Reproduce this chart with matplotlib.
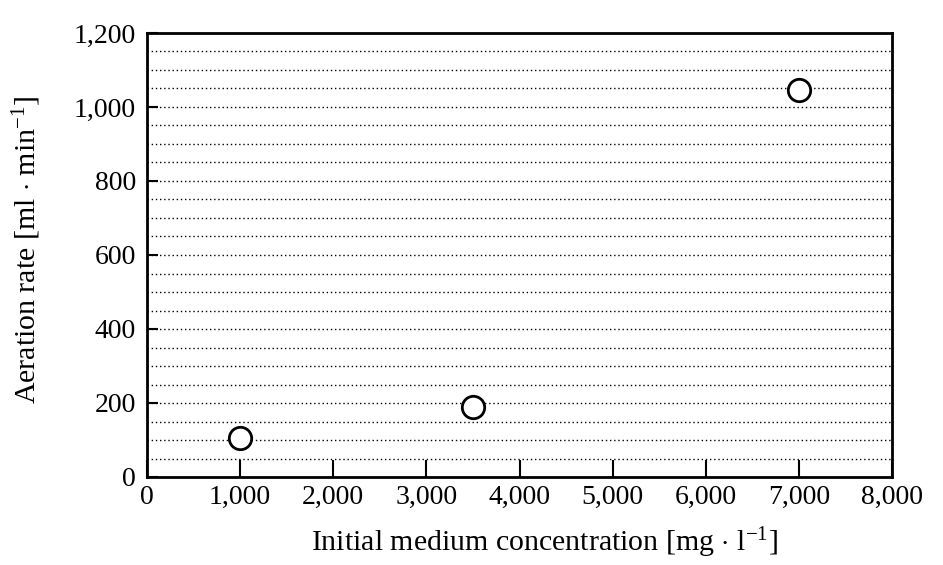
import matplotlib.pyplot as plt
import numpy as np

plt.rcParams['font.family'] = ['Liberation Serif', 'DejaVu Serif']
plt.rcParams['mathtext.fontset'] = 'custom'
plt.rcParams['mathtext.rm'] = 'Liberation Serif'
plt.rcParams['mathtext.it'] = 'Liberation Serif:italic'

# initial medium concentration [mg/l] vs aeration rate [ml/min]
concentration = [1000, 3500, 7000]
aeration_rate = [105, 190, 1045]

x_ticks = [0, 1000, 2000, 3000, 4000, 5000, 6000, 7000, 8000]
y_ticks = [0, 200, 400, 600, 800, 1000, 1200]

fig = plt.figure(figsize=(9.43, 5.65), dpi=100)
ax = fig.add_axes([147 / 943, 1 - 477 / 565, (892 - 147) / 943, (477 - 33) / 565])

ax.scatter(concentration, aeration_rate, s=260, facecolors='white',
           edgecolors='black', linewidths=2, zorder=3)

ax.set_xlim(0, 8000)
ax.set_ylim(0, 1200)
ax.set_xticks(x_ticks)
ax.set_yticks(y_ticks)
ax.set_xticklabels([f'{v:,}' for v in x_ticks])
ax.set_yticklabels([f'{v:,}' for v in y_ticks])
ax.set_yticks(np.arange(0, 1201, 50), minor=True)

# dotted horizontal lines every 50
ax.grid(True, which='both', axis='y', linestyle=(0, (1, 2)), color='black',
        linewidth=1.0)
ax.set_axisbelow(True)

ax.tick_params(axis='x', which='major', direction='in', length=12, width=1.5,
               labelsize=20, pad=6)
ax.tick_params(axis='y', which='major', direction='in', length=8, width=1.5,
               labelsize=20, pad=8)
ax.tick_params(axis='y', which='minor', length=0)
for s in ax.spines.values():
    s.set_linewidth(2)

ax.set_xlabel(r'Initial medium concentration [mg $\cdot$ l$^{\mathregular{-1}}$]',
              fontsize=21.5, va='center', ha='center')
ax.set_ylabel(r'Aeration rate [ml $\cdot$ min$^{\mathregular{-1}}$]',
              fontsize=21.5, va='center', ha='center')
ax.xaxis.set_label_coords(0.534, -0.147)
ax.yaxis.set_label_coords(-0.162, 0.511)

fig.savefig('out.png', dpi=100)
